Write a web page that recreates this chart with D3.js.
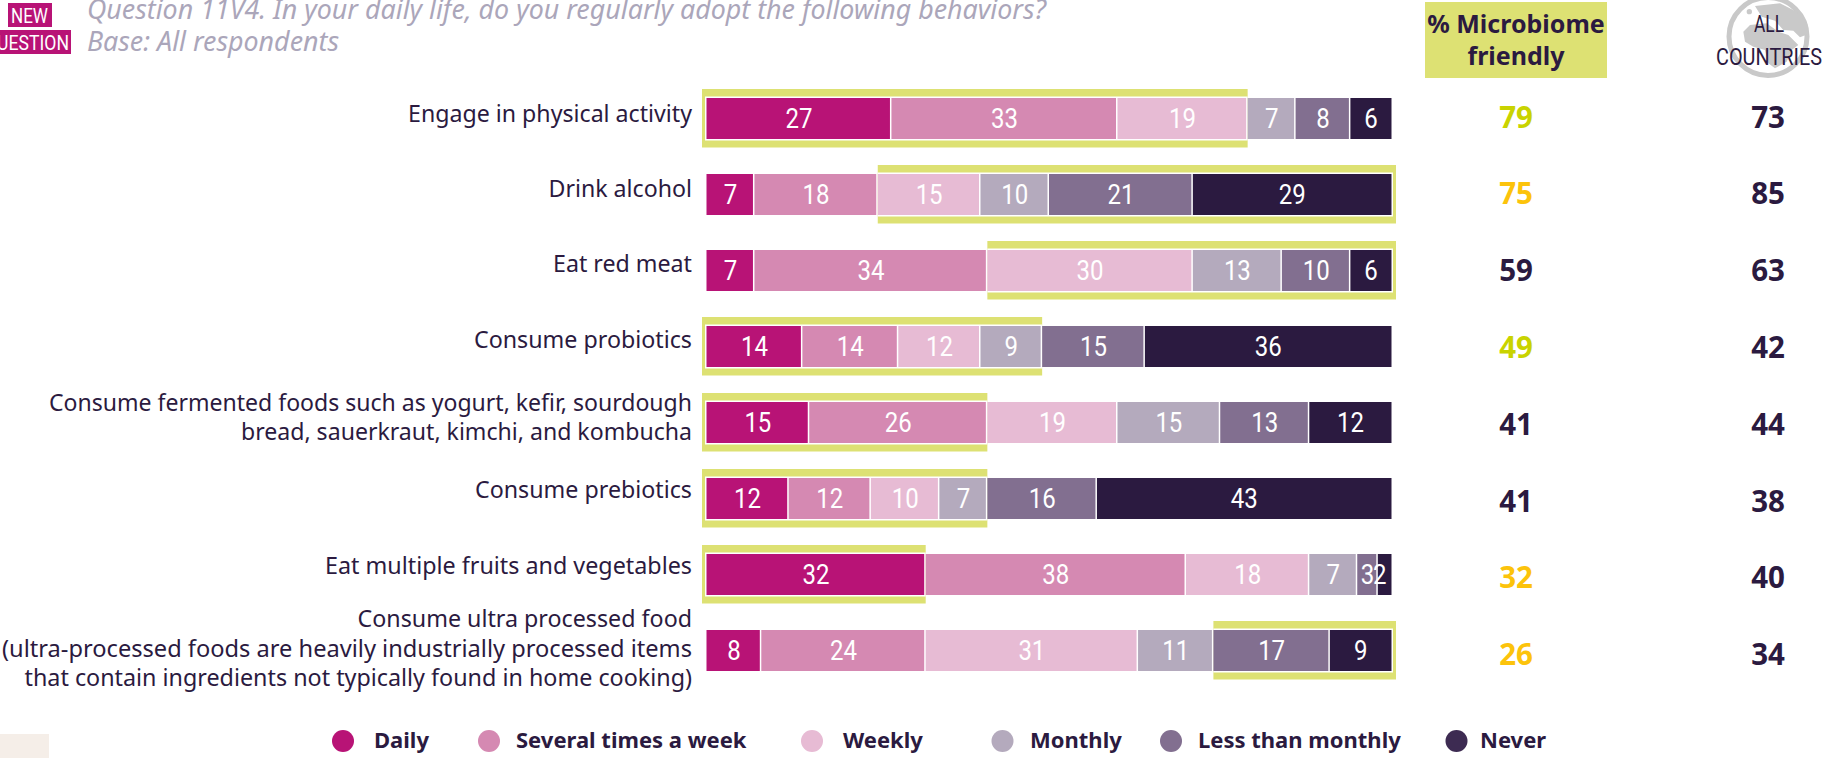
<!DOCTYPE html>
<html>
<head>
<meta charset="utf-8">
<script src="https://cdn.jsdelivr.net/npm/d3@7/dist/d3.min.js"></script>
<style>
html,body{margin:0;padding:0;background:#fff;overflow:hidden}
svg{display:block}
text{font-family:"Noto Sans",sans-serif}
.narrow{font-family:"Roboto",sans-serif}
</style>
</head>
<body>
<svg id="chart" width="1826" height="758"></svg>
<script>
// Survey answers, percent of respondents per frequency
const behaviors = [
  ["Engage in physical activity"],
  ["Drink alcohol"],
  ["Eat red meat"],
  ["Consume probiotics"],
  ["Consume fermented foods such as yogurt, kefir, sourdough", "bread, sauerkraut, kimchi, and kombucha"],
  ["Consume prebiotics"],
  ["Eat multiple fruits and vegetables"],
  ["Consume ultra processed food", "(ultra-processed foods are heavily industrially processed items", "that contain ingredients not typically found in home cooking)"]
];
const frequencies = ["Daily", "Several times a week", "Weekly", "Monthly", "Less than monthly", "Never"];
const daily = [27, 7, 7, 14, 15, 12, 32, 8];
const severalTimesAWeek = [33, 18, 34, 14, 26, 12, 38, 24];
const weekly = [19, 15, 30, 12, 19, 10, 18, 31];
const monthly = [7, 10, 13, 9, 15, 7, 7, 11];
const lessThanMonthly = [8, 21, 10, 15, 13, 16, 3, 17];
const never = [6, 29, 6, 36, 12, 43, 2, 9];
const seriesValues = [daily, severalTimesAWeek, weekly, monthly, lessThanMonthly, never];
// Which run of answers counts as microbiome friendly on each row: [first, last + 1]
const friendlyFrom = [0, 2, 2, 0, 0, 0, 0, 4];
const friendlyTo = [3, 6, 6, 4, 2, 4, 1, 6];
const microbiomeFriendly = [79, 75, 59, 49, 41, 41, 32, 26];
const allCountries = [73, 85, 63, 42, 44, 38, 40, 34];
const friendlyTone = ["lime", "amber", "dark", "lime", "dark", "dark", "amber", "amber"];

const palette = ["#b81376", "#d589b2", "#e7bbd4", "#b4aabd", "#826f90", "#2b1a40"];
const toneColor = {lime: "#c9d300", amber: "#fcc30b", dark: "#2b1a40"};
const ink = "#2b1a40", olive = "#dde173", grey = "#aba6ba";

const svg = d3.select("#chart");
const x = d3.scaleLinear().domain([0, 100]).range([706.5, 1391.5]);
const barH = 41;
const barY = d3.scalePoint().domain(d3.range(behaviors.length)).range([98, 98 + 7 * 76]);
const summaryY = d3.scalePoint().domain(d3.range(behaviors.length)).range([117.2, 655]);
const rowMid = i => barY(i) + barH / 2;

// Header
svg.append("rect").attr("x", 8).attr("y", 3).attr("width", 44).attr("height", 24).attr("fill", palette[0]);
svg.append("rect").attr("x", 0).attr("y", 30).attr("width", 71).attr("height", 24).attr("fill", palette[0]);
svg.append("text").attr("class", "narrow").attr("x", 29.5).attr("y", 22.5).attr("text-anchor", "middle").attr("fill", "#fff")
  .attr("font-size", 20).attr("textLength", 37).attr("lengthAdjust", "spacingAndGlyphs").text("NEW");
svg.append("text").attr("class", "narrow").attr("x", 27).attr("y", 49.5).attr("text-anchor", "middle").attr("fill", "#fff")
  .attr("font-size", 20).attr("textLength", 84).attr("lengthAdjust", "spacingAndGlyphs").text("QUESTION");
svg.append("text").attr("x", 87).attr("y", 19).attr("fill", grey).attr("font-size", 26.8).attr("font-style", "italic")
  .text("Question 11V4. In your daily life, do you regularly adopt the following behaviors?");
svg.append("text").attr("x", 87).attr("y", 51).attr("fill", grey).attr("font-size", 26.8).attr("font-style", "italic")
  .text("Base: All respondents");

// Column headers
svg.append("rect").attr("x", 1425).attr("y", 2).attr("width", 182).attr("height", 76).attr("fill", olive);
["% Microbiome", "friendly"].forEach((t, i) => {
  svg.append("text").attr("x", 1516).attr("y", 33 + i * 32).attr("text-anchor", "middle")
    .attr("fill", ink).attr("font-size", 25).attr("font-weight", 700).text(t);
});
// Globe badge behind the column title
const globe = svg.append("g");
globe.append("circle").attr("cx", 1768).attr("cy", 36.5).attr("r", 39).attr("fill", "#fff")
  .attr("stroke", "#c9c9c9").attr("stroke-width", 5);
const land = globe.append("g").attr("transform", "translate(1700,0) scale(0.3333)").attr("fill", "#c9c9c9");
land.append("path").attr("d", "M165 18 L240 10 L290 35 L322 72 L325 102 L300 112 L280 92 L250 90 L225 62 L185 50 Z");
land.append("path").attr("d", "M130 95 L150 75 L200 70 L235 95 L265 105 L295 135 L275 150 L260 185 L225 205 L205 190 L195 150 L160 140 L135 125 Z");
land.append("circle").attr("cx", 148).attr("cy", 35).attr("r", 8);
const badgeWidths = [30, 106];
["ALL", "COUNTRIES"].forEach((t, i) => {
  svg.append("text").attr("class", "narrow").attr("x", 1769).attr("y", 32 + i * 33).attr("text-anchor", "middle")
    .attr("fill", ink).attr("font-size", 23).attr("textLength", badgeWidths[i]).attr("lengthAdjust", "spacingAndGlyphs").text(t);
});

// Row labels, each line fitted to its measured width
const labelWidths = [[284], [143.5], [139], [218], [643, 451], [217], [367], [334.5, 690, 667.5]];
const labelShift = [0, -1, -2, -2, 0, -3.5, -3.5, 3];
behaviors.forEach((lines, i) => {
  const lineMid = rowMid(i) - 5 + labelShift[i];
  lines.forEach((t, k) => {
    svg.append("text").attr("x", 692).attr("y", lineMid + (k - (lines.length - 1) / 2) * 29.7)
      .attr("dy", "0.35em").attr("text-anchor", "end").attr("fill", ink).attr("font-size", 23)
      .attr("textLength", labelWidths[i][k]).attr("lengthAdjust", "spacingAndGlyphs").text(t);
  });
});

// Friendly band: olive rules around the counted segments, closed on the chart's ends
const cumulative = behaviors.map((_, i) => {
  let sum = 0;
  return seriesValues.map(s => { const a = sum; sum += s[i]; return [a, sum]; });
});
const bands = svg.append("g").selectAll("g").data(behaviors.map((_, i) => i)).join("g");
const bandStart = i => cumulative[i][friendlyFrom[i]][0];
const bandEnd = i => cumulative[i][friendlyTo[i] - 1][1];
bands.append("rect")
  .attr("x", i => bandStart(i) === 0 ? x(0) - 4.5 : x(bandStart(i)))
  .attr("y", i => barY(i) - 9)
  .attr("width", i => (bandEnd(i) === 100 ? x(100) + 4.5 : x(bandEnd(i))) - (bandStart(i) === 0 ? x(0) - 4.5 : x(bandStart(i))))
  .attr("height", barH + 17.5)
  .attr("fill", olive);
bands.append("rect")
  .attr("x", i => bandStart(i) === 0 ? x(0) - 1.5 : x(bandStart(i)))
  .attr("y", i => barY(i) - 1.5)
  .attr("width", i => (bandEnd(i) === 100 ? x(100) + 1.5 : x(bandEnd(i))) - (bandStart(i) === 0 ? x(0) - 1.5 : x(bandStart(i))))
  .attr("height", barH + 3)
  .attr("fill", "#fff");

// Stacked segments and their values; a sliver at the row's end keeps its number pulled inward
seriesValues.forEach((values, s) => {
  const g = svg.append("g");
  g.selectAll("rect").data(values).join("rect")
    .attr("x", (d, i) => x(cumulative[i][s][0]))
    .attr("y", (d, i) => barY(i))
    .attr("width", (d, i) => x(cumulative[i][s][1]) - x(cumulative[i][s][0]) - (s < 5 ? 1.5 : 0))
    .attr("height", barH)
    .attr("fill", palette[s]);
  g.selectAll("text").data(values).join("text")
    .attr("class", "narrow")
    .attr("x", (d, i) => (x(cumulative[i][s][0]) + x(cumulative[i][s][1])) / 2 - (s === 5 && d < 3 ? 5 : 0))
    .attr("y", rowIndexY)
    .attr("dy", "0.35em").attr("text-anchor", "middle")
    .attr("fill", "#fff").attr("font-size", 28)
    .attr("textLength", d => String(d).length * 13.5).attr("lengthAdjust", "spacingAndGlyphs").text(d => d);
});
function rowIndexY(d, i) { return rowMid(i); }

// Summary columns
svg.append("g").selectAll("text").data(microbiomeFriendly).join("text")
  .attr("x", 1516).attr("y", (d, i) => summaryY(i)).attr("dy", "0.35em").attr("text-anchor", "middle")
  .attr("font-size", 29.5).attr("font-weight", 700).attr("fill", (d, i) => toneColor[friendlyTone[i]]).text(d => d);
svg.append("g").selectAll("text").data(allCountries).join("text")
  .attr("x", 1768).attr("y", (d, i) => summaryY(i)).attr("dy", "0.35em").attr("text-anchor", "middle")
  .attr("font-size", 29.5).attr("font-weight", 700).attr("fill", ink).text(d => d);

// Legend
const legendDot = [343, 489, 812, 1002.5, 1171, 1456.5];
const legendText = [374, 516, 843, 1030, 1198, 1480];
const legendFill = [palette[0], palette[1], palette[2], palette[3], palette[4], "#3d2b52"];
frequencies.forEach((f, i) => {
  svg.append("circle").attr("cx", legendDot[i]).attr("cy", 741).attr("r", 11).attr("fill", legendFill[i]);
  svg.append("text").attr("x", legendText[i]).attr("y", 740).attr("dy", "0.35em")
    .attr("fill", ink).attr("font-size", 22).attr("font-weight", 700).text(f);
});

// Footer tab
svg.append("rect").attr("x", 0).attr("y", 734).attr("width", 49).attr("height", 24).attr("fill", "#f5eee8");
</script>
</body>
</html>
